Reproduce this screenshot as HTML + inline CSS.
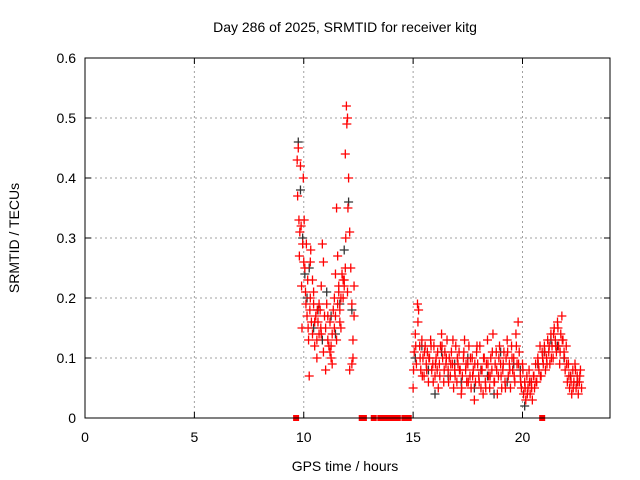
<!DOCTYPE html>
<html><head><meta charset="utf-8"><style>
html,body{margin:0;padding:0;background:#fff;}
svg{display:block;font-family:"Liberation Sans",sans-serif;}
</style></head><body>
<svg id="chart" width="640" height="480">
<text x="345" y="32" text-anchor="middle" font-size="14">Day 286 of 2025, SRMTID for receiver kitg</text>
<text x="345" y="471" text-anchor="middle" font-size="14">GPS time / hours</text>
<text transform="translate(19,238) rotate(-90)" text-anchor="middle" font-size="14">SRMTID / TECUs</text>
<g id="grid"></g><g id="ticks"></g><g id="black"></g><g id="red"></g><g id="zeros"></g>
<rect x="85" y="58" width="525" height="360" fill="none" stroke="#000" stroke-width="1"/>
</svg>
<script>
const xTicks=[0,5,10,15,20];
const yTicks=[0,0.1,0.2,0.3,0.4,0.5,0.6];
const yTickLabels=["0","0.1","0.2","0.3","0.4","0.5","0.6"];
const redTimes=[9.70,9.72,9.75,9.78,9.80,9.82,9.85,9.88,9.90,9.92,9.95,9.98,10.0,10.02,10.05,10.08,10.10,10.12,10.15,10.18,10.2,10.22,10.25,10.28,10.3,10.35,10.4,10.45,10.5,10.55,10.6,10.65,10.7,10.75,10.8,10.85,10.9,10.95,11.0,11.05,11.1,11.15,11.2,11.25,11.3,11.35,11.4,11.45,11.5,11.55,11.6,11.65,11.7,11.75,11.8,11.85,11.9,11.95,12.0,12.05,12.1,12.15,12.2,12.25,12.3,
10.3,10.4,10.5,10.6,10.7,10.8,10.9,11.0,11.1,11.2,11.3,11.4,11.5,11.6,11.7,11.8,11.9,12.0,12.1,12.2,12.3,11.92,11.97,12.02,10.32,10.45,10.62,10.78,11.25,11.45,11.55,11.65,11.85,12.25,
15.0,15.05,15.1,15.15,15.2,15.25,15.3,15.35,15.4,15.45,15.5,15.55,15.6,15.65,15.7,15.75,15.8,15.85,15.9,15.95,16.0,16.05,16.1,16.15,16.2,16.25,16.3,16.35,16.4,16.45,16.5,16.55,16.6,16.65,16.7,16.75,16.8,16.85,16.9,16.95,17.0,17.05,17.1,17.15,17.2,17.25,17.3,17.35,17.4,17.45,17.5,17.55,17.6,17.65,17.7,17.75,17.8,17.85,17.9,17.95,18.0,18.05,18.1,18.15,18.2,18.25,18.3,18.35,18.4,18.45,18.5,18.55,18.6,18.65,18.7,18.75,18.8,18.85,18.9,18.95,19.0,19.05,19.1,19.15,19.2,19.25,19.3,19.35,19.4,19.45,19.5,19.55,19.6,19.65,19.7,19.75,19.8,19.85,19.9,19.95,20.0,20.05,20.1,20.15,20.2,20.25,20.3,20.35,20.4,20.45,20.5,20.55,20.6,20.65,20.7,20.75,20.8,20.85,20.9,20.95,21.0,21.05,21.1,21.15,21.2,21.25,21.3,21.35,21.4,21.45,21.5,21.55,21.6,21.65,21.7,21.75,21.8,21.85,21.9,21.95,22.0,22.05,22.1,22.15,22.2,22.25,22.3,22.35,22.4,22.45,22.5,22.55,22.6,22.65,22.7,
15.02,15.12,15.22,15.32,15.42,15.52,15.62,15.72,15.82,15.92,16.02,16.12,16.22,16.32,16.42,16.52,16.62,16.72,16.82,16.92,17.02,17.12,17.22,17.32,17.42,17.52,17.62,17.72,17.82,17.92,18.02,18.12,18.22,18.32,18.42,18.52,18.62,18.72,18.82,18.92,19.02,19.12,19.22,19.32,19.42,19.52,19.62,19.72,19.82,19.92,20.02,20.12,20.22,20.32,20.42,20.52,20.62,20.72,20.82,20.92,21.02,21.12,21.22,21.32,21.42,21.52,21.62,21.72,21.82,21.92,22.02,22.12,22.22,22.32,22.42,22.52,22.62];
const redValues=[.43,.37,.45,.33,.27,.31,.42,.32,.22,.15,.29,.40,.26,.33,.25,.21,.19,.29,.17,.23,.15,.13,.07,.18,.20,.16,.14,.19,.12,.17,.10,.16,.14,.18,.22,.29,.26,.17,.15,.19,.13,.12,.16,.10,.14,.18,.20,.24,.35,.27,.22,.18,.15,.24,.20,.22,.44,.52,.50,.40,.31,.25,.19,.13,.22,
.26,.23,.16,.13,.19,.14,.11,.08,.17,.11,.09,.15,.13,.21,.20,.23,.25,.21,.08,.09,.17,.30,.49,.35,.28,.21,.18,.15,.12,.17,.19,.16,.23,.10,
.05,.11,.14,.09,.19,.18,.12,.08,.13,.10,.07,.12,.09,.11,.06,.10,.13,.08,.09,.12,.07,.10,.08,.05,.09,.12,.14,.10,.06,.11,.09,.13,.08,.10,.07,.11,.09,.05,.08,.12,.06,.09,.11,.08,.04,.07,.10,.13,.08,.06,.09,.12,.07,.05,.10,.08,.03,.06,.11,.09,.07,.12,.05,.08,.04,.10,.06,.09,.13,.07,.05,.10,.08,.14,.06,.09,.11,.04,.07,.12,.09,.05,.08,.11,.06,.10,.13,.07,.09,.05,.12,.08,.10,.06,.14,.09,.16,.11,.07,.05,.09,.04,.06,.03,.07,.05,.08,.04,.06,.03,.07,.05,.09,.06,.10,.08,.12,.07,.11,.09,.12,.08,.10,.13,.11,.09,.14,.12,.10,.15,.13,.11,.16,.12,.09,.14,.17,.13,.11,.08,.12,.06,.09,.05,.07,.04,.08,.06,.09,.05,.07,.04,.06,.08,.05,
.08,.12,.16,.10,.07,.11,.08,.10,.12,.06,.09,.11,.07,.12,.08,.10,.06,.09,.13,.07,.10,.08,.05,.11,.09,.06,.10,.07,.09,.12,.06,.08,.10,.05,.09,.07,.11,.06,.08,.10,.07,.09,.05,.11,.08,.10,.07,.12,.09,.06,.08,.05,.04,.06,.05,.07,.06,.09,.07,.10,.11,.09,.12,.10,.14,.12,.15,.11,.13,.10,.09,.07,.06,.05,.08,.06,.07];
const blackTimes=[9.75,9.85,9.95,10.05,10.15,10.25,10.45,10.65,10.85,11.05,11.25,11.45,11.65,11.85,12.05,12.2,15.1,15.4,15.7,16.0,16.3,16.6,16.9,17.2,17.5,17.8,18.1,18.4,18.7,19.0,19.3,19.6,19.9,20.1,20.4,20.7,21.0,21.3,21.6,21.9,22.2,22.5];
const blackValues=[.46,.38,.30,.24,.20,.25,.15,.18,.13,.21,.17,.14,.19,.28,.36,.18,.10,.12,.08,.04,.11,.07,.09,.06,.10,.05,.08,.07,.04,.11,.06,.09,.08,.02,.06,.09,.11,.13,.12,.10,.07,.06];
const zeroTimes=[9.65,12.65,12.75,13.2,13.5,13.7,13.9,14.1,14.3,14.6,14.7,14.8,20.9];
const X0=85,X1=610,Y0=418,Y1=58;
const xs=t=>X0+(t/24)*(X1-X0);
const ys=v=>Y0-(v/0.6)*(Y0-Y1);
const NS="http://www.w3.org/2000/svg";
function mk(tag,attrs,parent){const e=document.createElementNS(NS,tag);for(const k in attrs)e.setAttribute(k,attrs[k]);parent.appendChild(e);return e;}
const grid=document.getElementById('grid'),ticks=document.getElementById('ticks');
yTicks.forEach((v,i)=>{const y=ys(v);
 if(i>0&&i<yTicks.length-1){const g=mk('line',{x1:X0,x2:X1,y1:y,y2:y,stroke:'#a0a0a0','stroke-dasharray':'2,3'},grid);
 
 }
 mk('line',{x1:X0,x2:X0+6,y1:y,y2:y,stroke:'#000'},ticks);mk('line',{x1:X1,x2:X1-6,y1:y,y2:y,stroke:'#000'},ticks);
 const t=mk('text',{x:X0-9,y:y+5,'text-anchor':'end','font-size':'14'},ticks);t.textContent=yTickLabels[i];
 
 
});
xTicks.forEach(v=>{const x=xs(v);
 if(v>0){const g=mk('line',{x1:x,x2:x,y1:Y0,y2:Y1,stroke:'#a0a0a0','stroke-dasharray':'2,3'},grid);
 
 }
 mk('line',{x1:x,x2:x,y1:Y0,y2:Y0-6,stroke:'#000'},ticks);mk('line',{x1:x,x2:x,y1:Y1,y2:Y1+6,stroke:'#000'},ticks);
 const t=mk('text',{x:x,y:Y0+24,'text-anchor':'middle','font-size':'14'},ticks);t.textContent=String(v);
 
 
});
function plus(g,t,v,c){const x=xs(t),y=ys(v);
 const p=mk('path',{d:`M${x-4.5},${y}H${x+4.5}M${x},${y-4.5}V${y+4.5}`,stroke:c,'stroke-width':1.3,fill:'none'},g);
 return p;}
const bg=document.getElementById('black');
blackTimes.forEach((t,i)=>{const p=plus(bg,t,blackValues[i],'#333');
 
 });
const rg=document.getElementById('red');
redTimes.forEach((t,i)=>{const p=plus(rg,t,redValues[i],'#ff0000');
 
 });
const zg=document.getElementById('zeros');
zeroTimes.forEach(t=>{const r=mk('rect',{x:xs(t)-3,y:Y0-3,width:6,height:6,fill:'#ff0000'},zg);
 
 });
</script>
</body></html>
